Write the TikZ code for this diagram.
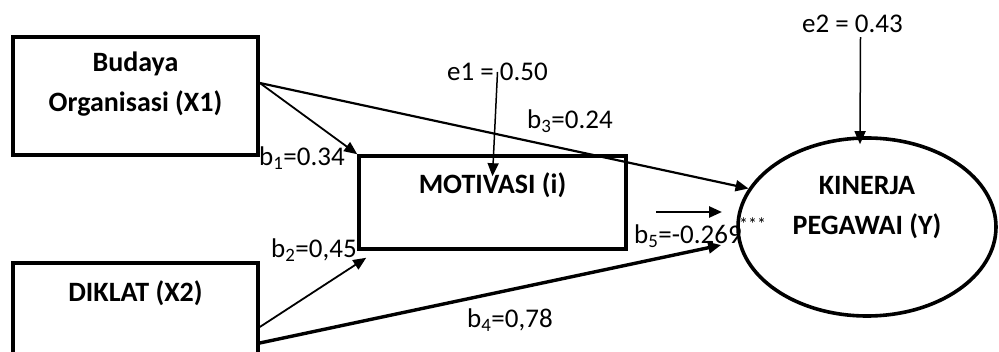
\documentclass[tikz,border=0pt]{standalone}
\usepackage{fontspec}
\setmainfont{Carlito}
\usetikzlibrary{arrows.meta,shapes.geometric}
\definecolor{inkc}{RGB}{0,0,0}

\tikzset{
  varbox/.style={draw=inkc, line width=3.6pt, rectangle, inner sep=0pt},
  varell/.style={draw=inkc, line width=3.6pt, ellipse, inner sep=0pt,
                 minimum width=258pt, minimum height=178pt},
  boxtxt/.style={font=\fontsize{28}{40}\selectfont\bfseries, align=center, inner sep=0pt},
  coef/.style={font=\fontsize{27}{30}\selectfont, inner sep=0pt},
  path/.style={->, draw=inkc, line width=1.8pt},
}

\begin{document}
\begin{tikzpicture}[x=1pt, y=-1pt, >={Triangle[length=13pt,width=11pt]}]
  \useasboundingbox (0,0) rectangle (999,352);

  % latent variables
  \node[varbox, minimum width=245pt, minimum height=118pt] (x1) at (135.5,96) {};
  \node[boxtxt] (x1txt) at ([yshift=12pt]x1.center) {Budaya\\Organisasi (X1)};

  \node[varbox, minimum width=245pt, minimum height=120pt] (x2) at (135.5,323) {};
  \node[boxtxt] (x2txt) at (135.5,293) {DIKLAT (X2)};

  \node[varbox, minimum width=267pt, minimum height=93pt] (mot) at (492.5,202.5) {};
  \node[boxtxt] (mottxt) at ([yshift=-31pt]mot.north) {MOTIVASI (i)};

  \node[varell] (y) at (867,227) {};
  \node[boxtxt] (ytxt) at ([yshift=19pt]y.center) {KINERJA\\PEGAWAI (Y)};

  % error terms
  \node[coef] (e1) at (497.5,72) {e1 = 0.50};
  \node[coef] (e2) at (852.5,24) {e2 = 0.43};

  % paths
  \draw[path] ([yshift=13pt]x1.east) -- (mot.north west);
  \draw[path, line width=2.2pt] ([yshift=13pt]x1.east) -- (y.162);
  \draw[path] ([yshift=-4pt]x2.east) -- ([xshift=9pt,yshift=-7pt]mot.south west);
  \draw[path, line width=3.4pt] ([yshift=-20pt]x2.east) -- ([xshift=-15pt,yshift=-18pt]y.west);
  \draw[path, line width=1.5pt] (e1.center) -- ([yshift=-22pt]mot.north);
  \draw[path, line width=1.5pt] ([xshift=8pt,yshift=-4pt]e2.south) -- ([xshift=-7pt,yshift=-8pt]y.north);

  % indirect effect arrow
  \coordinate (b5a) at (656,212);
  \coordinate (b5b) at (722,212);
  \draw[path, line width=2.6pt] (b5a) -- (b5b);

  % coefficients
  \node[coef, anchor=west] (b1) at (259,158) {b\textsubscript{1}=0.34};
  \node[coef, anchor=west] (b2) at (271,250) {b\textsubscript{2}=0,45};
  \node[coef, anchor=west] (b3) at (527,121) {b\textsubscript{3}=0.24};
  \node[coef, anchor=west] (b4) at (467,320) {b\textsubscript{4}=0,78};
  \node[coef, anchor=west] (b5) at (634,236) {b\textsubscript{5}=-0.269};
  \node[coef, anchor=west, font=\fontsize{18}{20}\selectfont] (sig) at (739,224) {***};
\end{tikzpicture}
\end{document}
